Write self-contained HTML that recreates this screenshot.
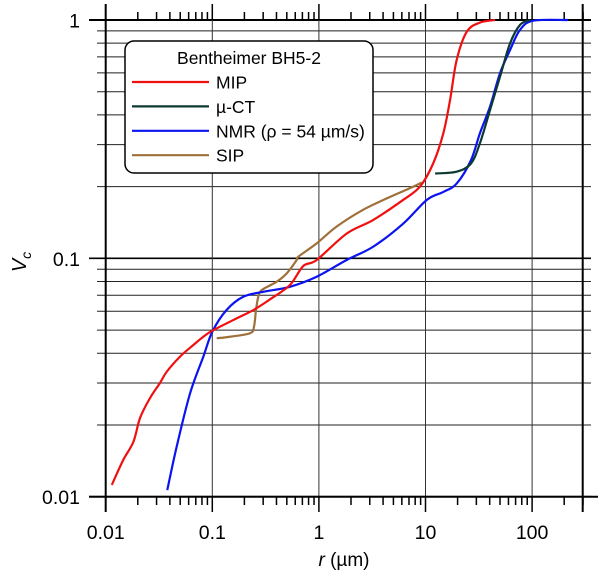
<!DOCTYPE html>
<html><head><meta charset="utf-8"><style>
html,body{margin:0;padding:0;background:#fff;}
svg{display:block;font-family:"Liberation Sans",sans-serif;}
</style></head><body>
<svg id="chart" width="600" height="577" viewBox="0 0 600 577"></svg>
<script>
const mipR=[0.0114,0.0146,0.0182,0.0210,0.0260,0.0323,0.0373,0.0498,0.0664,0.0824,0.1,0.157,0.243,0.348,0.535,0.714,0.953,1.82,3.24,6.19,8.88,11.8,14.7,17.0,19.6,24.4,32.4,44.9];
const mipV=[0.0112,0.01425,0.0170,0.0214,0.0259,0.0300,0.0334,0.0387,0.0433,0.0469,0.0497,0.0551,0.0607,0.0673,0.0773,0.0929,0.0984,0.127,0.145,0.176,0.200,0.250,0.335,0.462,0.679,0.893,0.975,1];
const ctR=[12.3,19.6,26.7,32.4,40.3,50.0,62.1,76.9,95.5];
const ctV=[0.227,0.231,0.250,0.304,0.419,0.578,0.798,0.953,1];
const nmrR=[0.0378,0.0463,0.0618,0.0824,0.1,0.136,0.195,0.301,0.535,0.953,1.82,3.24,6.19,10.3,14.7,19.6,26.7,32.4,40.3,50.0,62.1,76.9,102.6,217];
const nmrV=[0.01066,0.0162,0.0271,0.0387,0.0492,0.0607,0.069,0.0724,0.076,0.0837,0.0984,0.112,0.140,0.176,0.190,0.206,0.258,0.335,0.433,0.598,0.748,0.908,0.993,1];
const sipR=[0.110,0.147,0.226,0.246,0.257,0.270,0.291,0.402,0.499,0.619,0.641,0.953,1.47,2.61,4.65,7.16,9.21];
const sipV=[0.0462,0.0469,0.0485,0.0516,0.0607,0.069,0.0736,0.0798,0.0865,0.0984,0.1016,0.1156,0.136,0.160,0.181,0.197,0.208];
const xTicks=[0.01,0.1,1,10,100];
const xTickLabels=["0.01","0.1","1","10","100"];
const yTicks=[0.01,0.1,1];
const yTickLabels=["0.01","0.1","1"];

const L=105.7,R=582.7,T=20,B=496.7,DX=106.6,DY=238.35;
const X=v=>L+(Math.log10(v)+2)*DX;
const Y=v=>T-Math.log10(v)*DY;
const svg=document.getElementById('chart');
const NS='http://www.w3.org/2000/svg';
function mk(tag,attrs,parent){const e=document.createElementNS(NS,tag);for(const k in attrs)e.setAttribute(k,attrs[k]);(parent||svg).appendChild(e);return e;}

for(let d=-2;d<0;d++){for(let m=1;m<10;m++){const v=m*Math.pow(10,d);const y=Y(v);const major=m===1;
const ln=mk('line',{x1:major?89:97,x2:591,y1:y,y2:y,stroke:major?'#000':'#222','stroke-width':major?1.6:1});

}}
const topLn=mk('line',{x1:89,x2:591,y1:T,y2:T,stroke:'#000','stroke-width':2});


for(let i=1;i<xTicks.length;i++){const x=X(xTicks[i]);
const g=mk('line',{x1:x,x2:x,y1:T,y2:B,stroke:'#333','stroke-width':1});

}
for(let d=-2;d<=2;d++){for(let m=1;m<10;m++){const v=m*Math.pow(10,d);const x=X(v);if(x>R+0.5)continue;const major=m===1;
const t1=mk('line',{x1:x,x2:x,y1:major?4:12,y2:T,stroke:'#000','stroke-width':1.5});


const t2=mk('line',{x1:x,x2:x,y1:B,y2:major?512:505,stroke:'#000','stroke-width':1.5});

}}
const extra=mk('line',{x1:X(300),x2:X(300),y1:12,y2:T,stroke:'#000','stroke-width':1.5});


const fl=mk('line',{x1:L,x2:L,y1:4,y2:512,stroke:'#000','stroke-width':2});


const fr=mk('line',{x1:R,x2:R,y1:4,y2:512,stroke:'#000','stroke-width':2});


const fb=mk('line',{x1:L,x2:598,y1:B,y2:B,stroke:'#000','stroke-width':2});


const fb2=mk('line',{x1:89,x2:L,y1:B,y2:B,stroke:'#000','stroke-width':2});



xTicks.forEach((v,i)=>{const t=mk('text',{x:X(v),y:539,'text-anchor':'middle','font-size':19.5,fill:'#000'});t.textContent=xTickLabels[i];

});
yTicks.forEach((v,i)=>{const t=mk('text',{x:80,y:Y(v)+7.5,'text-anchor':'end','font-size':19.5,fill:'#000'});t.textContent=yTickLabels[i];

});

const xt=mk('text',{x:344,y:566,'text-anchor':'middle','font-size':19});
xt.innerHTML='<tspan font-style="italic">r</tspan> (µm)';


const yt=mk('text',{transform:'translate(26,262) rotate(-90)','text-anchor':'middle','font-size':20});
yt.innerHTML='<tspan font-style="italic">V</tspan><tspan font-style="italic" font-size="14" dy="5">c</tspan>';



function series(rs,vs,color,name){
const P=rs.map((r,i)=>[X(r),Y(vs[i])]);
let d='M'+P[0][0].toFixed(2)+','+P[0][1].toFixed(2);
for(let i=0;i<P.length-1;i++){const p0=P[Math.max(i-1,0)],p1=P[i],p2=P[i+1],p3=P[Math.min(i+2,P.length-1)];const k=1/6;
const c1=[p1[0]+(p2[0]-p0[0])*k,p1[1]+(p2[1]-p0[1])*k],c2=[p2[0]-(p3[0]-p1[0])*k,p2[1]-(p3[1]-p1[1])*k];
d+=' C'+c1.map(n=>n.toFixed(2)).join(',')+' '+c2.map(n=>n.toFixed(2)).join(',')+' '+p2[0].toFixed(2)+','+p2[1].toFixed(2);}
const p=mk('path',{d:d,fill:'none',stroke:color,'stroke-width':2.2,'stroke-linejoin':'round'});

}
series(sipR,sipV,'#a0703a','sip-curve');
series(nmrR,nmrV,'#0a14f0','nmr-curve');
series(ctR,ctV,'#0c3a33','micro-ct-curve');
series(mipR,mipV,'#f01010','mip-curve');

const lg=mk('g',{});


mk('rect',{x:125,y:41,width:248,height:132,rx:9,ry:9,fill:'#fff',stroke:'#000','stroke-width':1.5},lg);
const lt=mk('text',{x:249,y:64,'text-anchor':'middle','font-size':17.5},lg);lt.textContent='Bentheimer BH5-2';


const entries=[['MIP','#f01010','legend-entry-mip'],['µ-CT','#0c3a33','legend-entry-micro-ct'],['NMR (ρ = 54 µm/s)','#0a14f0','legend-entry-nmr'],['SIP','#a0703a','legend-entry-sip']];
entries.forEach((e,i)=>{const y=82+i*24.4;const g=mk('g',{},lg);


mk('line',{x1:132,x2:209,y1:y,y2:y,stroke:e[1],'stroke-width':2.2},g);
const t=mk('text',{x:216,y:y+6.5,'font-size':17.5},g);t.textContent=e[0];});
</script>
</body></html>
